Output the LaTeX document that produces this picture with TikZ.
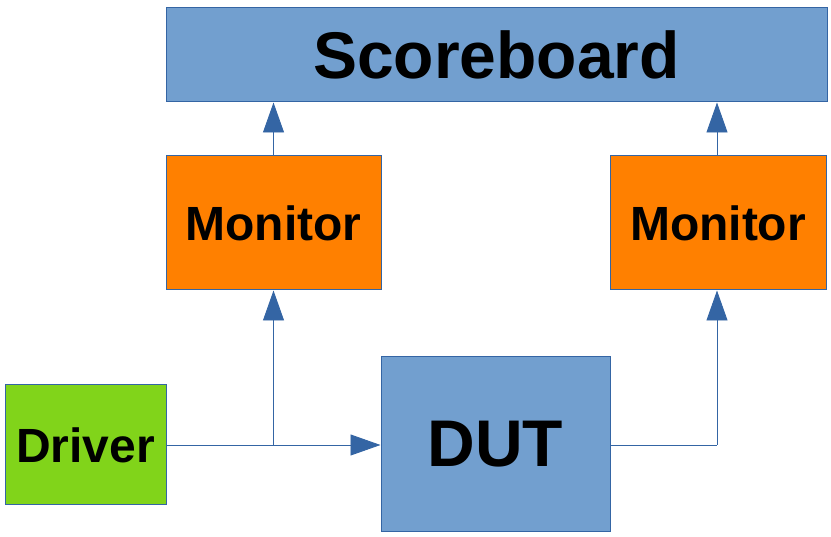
\documentclass[tikz,border=0pt]{standalone}
\usepackage{fontspec}
\setmainfont{Liberation Sans}
\usetikzlibrary{arrows.meta}
\definecolor{boxblue}{HTML}{729FCF}
\definecolor{edgeblue}{HTML}{3465A4}
\definecolor{monorange}{HTML}{FF8000}
\definecolor{drvgreen}{HTML}{81D41A}
\begin{document}
\begin{tikzpicture}[x=1pt,y=-1pt,
  blk/.style={draw=edgeblue, line width=1pt, inner sep=0pt, font=\bfseries},
  conn/.style={draw=edgeblue, line width=0.9pt, -{Triangle[length=30pt,width=21pt]}},
  plain/.style={draw=edgeblue, line width=0.9pt}]
\useasboundingbox (0,0) rectangle (831,537);
\node[blk, fill=boxblue, minimum width=661pt, minimum height=94pt, font=\bfseries\fontsize{66}{70}\selectfont] (sb) at (496.5,55) {Scoreboard};
\node[blk, fill=monorange, minimum width=215pt, minimum height=134pt, font=\bfseries\fontsize{48}{52}\selectfont] (m1) at (273.5,223) {Monitor};
\node[blk, fill=monorange, minimum width=216pt, minimum height=134pt, font=\bfseries\fontsize{48}{52}\selectfont] (m2) at (718,223) {Monitor};
\node[blk, fill=drvgreen, minimum width=161pt, minimum height=120pt, font=\bfseries\fontsize{48}{52}\selectfont] (drv) at (85.5,445) {Driver};
\node[blk, fill=boxblue, minimum width=229pt, minimum height=175pt, font=\bfseries\fontsize{66}{70}\selectfont] (dut) at (495.5,444.5) {DUT};
\coordinate (j1) at (273.5,445);
\coordinate (j2) at (717,445);
\draw[conn] (drv.east |- j1) -- (dut.west |- j1);
\draw[conn] (j1) -- (m1.south);
\draw[conn] (m1.north) -- (sb.south -| m1.north);
\draw[plain] (dut.east |- j2) -- (j2);
\draw[conn] (j2) -- (m2.south -| j2);
\draw[conn] (m2.north -| j2) -- (sb.south -| j2);
\end{tikzpicture}
\end{document}
